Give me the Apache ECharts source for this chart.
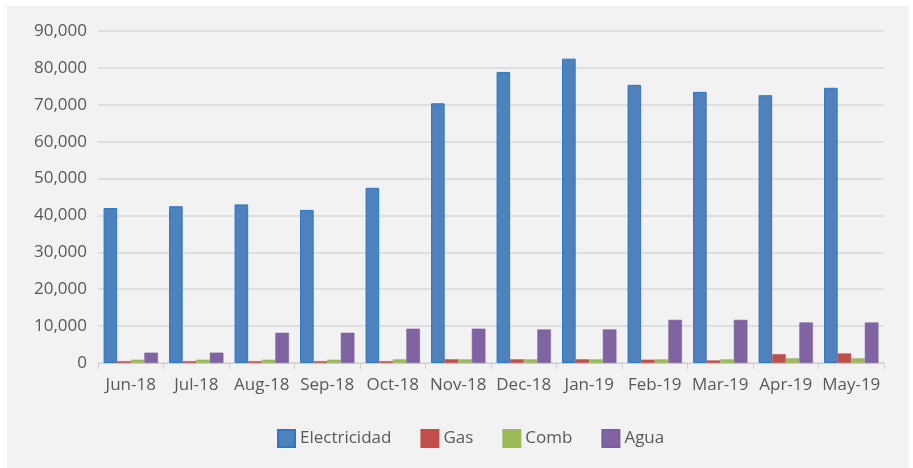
<!DOCTYPE html>
<html>
<head>
<meta charset="utf-8">
<script src="https://cdn.jsdelivr.net/npm/echarts@6/dist/echarts.min.js"></script>
<style>
html,body{margin:0;padding:0;background:#ffffff;}
#wrap{position:absolute;left:7px;top:6px;width:902px;height:462px;background:#f2f2f2;}
#chart{position:absolute;left:0;top:0;width:913px;height:468px;}
</style>
</head>
<body>
<div id="wrap"></div>
<div id="chart"></div>
<script>
const categories = ['Jun-18','Jul-18','Aug-18','Sep-18','Oct-18','Nov-18','Dec-18','Jan-19','Feb-19','Mar-19','Apr-19','May-19'];
const electricidad = [42000, 42500, 43000, 41500, 47500, 70400, 78900, 82500, 75400, 73500, 72600, 74600];
const gas = [500, 500, 500, 500, 500, 1000, 1000, 1000, 900, 700, 2400, 2600];
const comb = [900, 900, 900, 900, 1000, 1000, 1000, 1000, 1000, 1000, 1300, 1300];
const agua = [2800, 2800, 8200, 8200, 9300, 9300, 9100, 9100, 11700, 11700, 11000, 11000];
const yTicks = [0, 10000, 20000, 30000, 40000, 50000, 60000, 70000, 80000, 90000];

const chart = echarts.init(document.getElementById('chart'), null, {renderer:'canvas'});
const font = '"Open Sans", "Noto Sans", sans-serif';
function fmt(v){ return v === 0 ? '0' : v.toLocaleString('en-US'); }
chart.setOption({
  backgroundColor: 'transparent',
  animation: false,
  grid: {left: 98, right: 29, top: 31, bottom: 105, containLabel: false},
  legend: {
    data: ['Electricidad','Gas','Comb','Agua'],
    top: 424,
    left: 272,
    itemWidth: 17, itemHeight: 17, itemGap: 29,
    icon: 'rect',
    textStyle: {fontFamily: font, fontSize: 17, color: '#595959'}
  },
  xAxis: {
    type: 'category',
    data: categories,
    axisLine: {lineStyle: {color: '#d0d0d0', width: 1}},
    axisTick: {show: true, length: 6, lineStyle: {color: '#d0d0d0'}},
    axisLabel: {fontFamily: font, fontSize: 17, color: '#595959', margin: 14, interval: 0}
  },
  yAxis: {
    type: 'value',
    min: yTicks[0], max: yTicks[yTicks.length-1], interval: 10000,
    axisLine: {show: false},
    axisTick: {show: false},
    splitLine: {lineStyle: {color: '#d9d9d9', width: 1.5}},
    axisLabel: {fontFamily: font, fontSize: 17, color: '#595959', margin: 11, formatter: fmt}
  },
  series: [
    {name: 'Electricidad', type: 'bar', data: electricidad, barGap: '0%', barCategoryGap: '17%',
     itemStyle: {color: '#4f81bd', borderColor: '#2a78c6', borderWidth: 1}},
    {name: 'Gas', type: 'bar', data: gas,
     itemStyle: {color: '#c0504d', borderColor: '#c94a47', borderWidth: 0.5}},
    {name: 'Comb', type: 'bar', data: comb,
     itemStyle: {color: '#9bbb59', borderColor: '#9bbb59', borderWidth: 0.5}},
    {name: 'Agua', type: 'bar', data: agua,
     itemStyle: {color: '#8064a2', borderColor: '#7a5fa0', borderWidth: 0.5}}
  ]
});
</script>
</body>
</html>
